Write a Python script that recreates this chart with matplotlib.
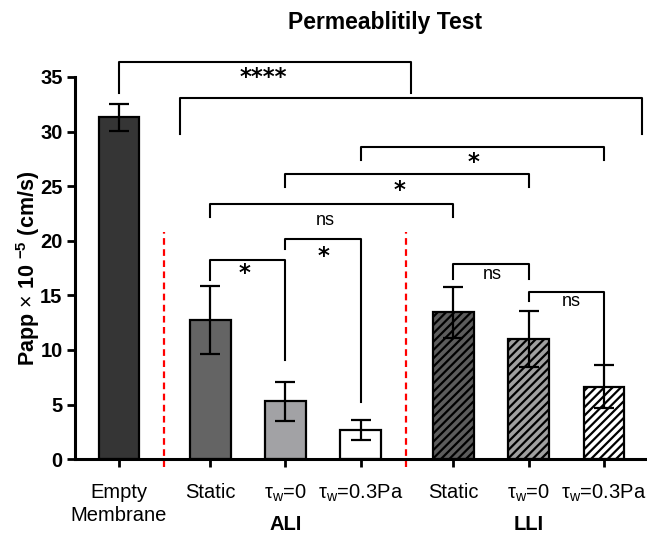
import matplotlib.pyplot as plt

plt.rcParams['font.family'] = ['Liberation Sans', 'DejaVu Sans']
plt.rcParams['mathtext.fontset'] = 'custom'
plt.rcParams['mathtext.rm'] = 'Liberation Sans'
plt.rcParams['mathtext.bf'] = 'Liberation Sans:bold'
plt.rcParams['mathtext.it'] = 'Liberation Sans:italic'
plt.rcParams['hatch.linewidth'] = 1.6

# data
labels = ['Empty\nMembrane', 'Static', r'τ$_{\rm w}$=0', r'τ$_{\rm w}$=0.3Pa',
          'Static', r'τ$_{\rm w}$=0', r'τ$_{\rm w}$=0.3Pa']
papp = [31.3, 12.75, 5.3, 2.7, 13.45, 11.0, 6.65]
sd = [1.25, 3.1, 1.8, 0.9, 2.35, 2.55, 2.0]
colors = ['#353535', '#646464', '#a2a2a5', '#ffffff', '#5c5c5c', '#a0a0a0', '#ffffff']
hatches = ['', '', '', '', '////', '////', '////']
groups = ['ALI', 'LLI']

# layout (category positions, group gaps)
xs = [0, 1.21, 2.21, 3.21, 4.44, 5.44, 6.44]

fig = plt.figure(figsize=(6.47, 5.34), dpi=100)
ax = fig.add_axes([0.116, 0.140, 0.884, 0.716])

for i in range(len(xs)):
    ax.bar(xs[i], papp[i], width=0.54, color=colors[i], edgecolor='black',
           linewidth=1.6, hatch=hatches[i], zorder=2)
ax.errorbar(xs, papp, yerr=sd, fmt='none', ecolor='black', elinewidth=1.6,
            capsize=7, capthick=1.6, zorder=3)

# red dashed separators
for xv in [0.6, 3.81]:
    ax.plot([xv, xv], [-0.7, 20.8], color='red', ls=(0, (3, 2)), lw=1.6,
            clip_on=False, zorder=1)

def bracket(x1, x2, top, b1, b2, text, tx, ty, star):
    ax.plot([x1, x1, x2, x2], [b1, top, top, b2], color='black', lw=1.5,
            clip_on=False, zorder=4)
    if star:
        ax.text(tx, ty, text, ha='center', va='center', fontsize=16.5,
                fontweight='bold', family='DejaVu Sans')
    else:
        ax.text(tx, ty, text, ha='center', va='center', fontsize=13)

bracket(0, 3.88, 36.4, 33.5, 33.5, '****', 1.91, 34.9, True)
bracket(0.81, 6.94, 33.1, 29.8, 29.8, '', 0, 0, False)
bracket(xs[3], xs[6], 28.6, 27.4, 27.4, '*', 4.71, 27.2, True)
bracket(xs[2], xs[5], 26.15, 24.9, 24.9, '*', 3.72, 24.6, True)
bracket(xs[1], xs[4], 23.4, 22.2, 22.2, 'ns', 2.74, 21.9, False)
bracket(xs[1], xs[2], 18.2, 16.4, 9.1, '*', 1.66, 17.0, True)
bracket(xs[2], xs[3], 20.2, 19.2, 5.2, '*', 2.71, 18.6, True)
bracket(xs[4], xs[5], 17.9, 16.5, 16.5, 'ns', 4.95, 16.9, False)
bracket(xs[5], xs[6], 15.3, 14.5, 8.7, 'ns', 6.0, 14.4, False)

ax.set_xlim(-0.584, 7.01)
ax.set_ylim(0, 35)
ax.set_yticks(range(0, 36, 5))
ax.set_yticklabels([str(v) for v in range(0, 36, 5)], fontweight='bold', fontsize=14.5)
ax.set_xticks(xs)
ax.set_xticklabels(labels, fontsize=14.5, linespacing=1.25)
ax.tick_params(axis='both', direction='out', length=6, width=2)
ax.tick_params(axis='x', pad=11)
ax.tick_params(axis='y', pad=3)
for s in ['top', 'right']:
    ax.spines[s].set_visible(False)
for s in ['left', 'bottom']:
    ax.spines[s].set_linewidth(2.2)

ax.set_ylabel(r'Papp $\times$ 10 $^{\mathbf{-5}}$ (cm/s)', fontsize=15.5,
              fontweight='bold')
ax.yaxis.set_label_coords(-0.058, 0.5)

ax.text(xs[2], -0.17, groups[0], transform=ax.get_xaxis_transform(),
        ha='center', va='center', fontsize=14.5, fontweight='bold')
ax.text(xs[5], -0.17, groups[1], transform=ax.get_xaxis_transform(),
        ha='center', va='center', fontsize=14.5, fontweight='bold')

fig.text(385 / 647, 1 - 22 / 534, 'Permeablitily Test', ha='center', va='center',
         fontsize=16.5, fontweight='bold')

fig.savefig('out.png', dpi=100)
